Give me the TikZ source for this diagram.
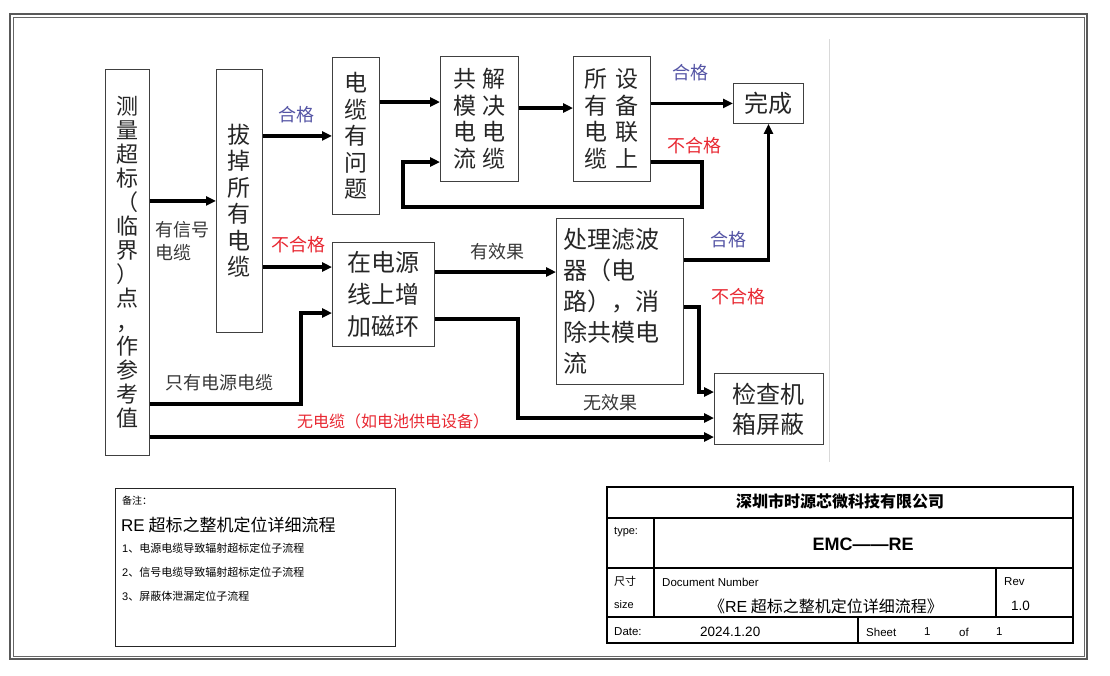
\documentclass[tikz,border=0pt]{standalone}
\usepackage{fontspec}
\setmainfont{Noto Sans CJK SC}
\newfontfamily\arialfont{Liberation Sans}
\usetikzlibrary{arrows.meta}
\definecolor{okblue}{RGB}{85,85,165}
\definecolor{failred}{RGB}{232,40,50}
\definecolor{labelgray}{RGB}{55,55,55}

\begin{document}
\begin{tikzpicture}[x=1pt,y=-1pt,>={Triangle[length=10pt,width=9pt]},
  box/.style={draw=black!75,line width=0.9pt,inner sep=0pt,align=center,anchor=north west,
    text=black!85,font=\fontsize{23}{26.5}\selectfont},
  flow/.style={->,line width=3.4pt},
  lbl/.style={text=labelgray,font=\fontsize{18}{23}\selectfont},
  pass/.style={text=okblue,font=\fontsize{18}{20}\selectfont},
  fail/.style={text=failred,font=\fontsize{18}{20}\selectfont},
  small/.style={anchor=west,inner sep=0pt,font=\fontsize{11}{13}\selectfont}]
  \useasboundingbox (0,0) rectangle (1110,675);
  % frame of the sheet
  \draw[black!65,line width=2.4pt] (10,14) rectangle (1087,659);
  \draw[black!60,line width=0.8pt] (13,17) rectangle (1084,656);
  \draw[black!15] (829,39) -- (829,462);

  % flow boxes
  \node[box,minimum width=44pt,minimum height=386pt,font=\fontsize{22}{24}\selectfont] (measure) at (105,69)
    {测\\量\\超\\标\\（\\临\\界\\）\\点\\，\\作\\参\\考\\值};
  \node[box,minimum width=46pt,minimum height=263pt] (unplug) at (216,69)
    {拔\\掉\\所\\有\\电\\缆};
  \node[box,minimum width=47pt,minimum height=157pt] (cablebad) at (332,57)
    {电\\缆\\有\\问\\题};
  \node[box,minimum width=78pt,minimum height=125pt] (fixcm) at (440,56)
    {共\hspace{6pt}解\\模\hspace{6pt}决\\电\hspace{6pt}电\\流\hspace{6pt}缆};
  \node[box,minimum width=77pt,minimum height=125pt] (allcable) at (573,56)
    {所\hspace{8pt}设\\有\hspace{8pt}备\\电\hspace{8pt}联\\缆\hspace{8pt}上};
  \node[box,minimum width=70pt,minimum height=40pt,font=\fontsize{24}{30}\selectfont] (done) at (733,83) {完成};
  \node[box,minimum width=102pt,minimum height=104pt,font=\fontsize{24}{32}\selectfont] (ferrite) at (332,242)
    {在电源\\线上增\\加磁环};
  \node[box,minimum width=127pt,minimum height=166pt,text width=113pt,align=left,
    font=\fontsize{24}{31}\selectfont] (filter) at (556,218)
    {处理滤波\\器（电\\路），消\\除共模电\\流};
  \node[box,minimum width=109pt,minimum height=71pt,font=\fontsize{24}{30}\selectfont] (shield) at (714,373)
    {检查机\\箱屏蔽};

  % connectors
  \draw[flow] (measure.east |- unplug.west) -- (unplug.west);
  \draw[flow] (unplug.east |- cablebad.west) -- (cablebad.west);
  \draw[flow] (cablebad.east |- 0,102) -- (fixcm.west |- 0,102);
  \draw[flow] (fixcm.east |- 0,108) -- (allcable.west |- 0,108);
  \draw[flow] (allcable.east |- done.west) -- (done.west);
  \draw[flow] (allcable.east |- 0,162) -- (702,162) -- (702,207) -- (403,207) -- (403,162)
    -- (fixcm.west |- 0,162);
  \draw[flow] (unplug.east |- 0,267) -- (ferrite.west |- 0,267);
  \draw[flow] (measure.east |- 0,404) -| (301,313) -- (ferrite.west |- 0,313);
  \draw[flow] (measure.east |- 0,437) -- (shield.west |- 0,437);
  \draw[flow] (ferrite.east |- 0,272) -- (filter.west |- 0,272);
  \draw[flow] (ferrite.east |- 0,319) -| (518,418) -- (shield.west |- 0,418);
  \draw[flow] (filter.east |- 0,307) -| (699,392) -- (shield.west |- 0,392);
  \draw[flow] (filter.east |- 0,260) -| (done.south);

  % connector labels
  \node[lbl,align=left] (sigcable) at (182,241) {有信号\\电缆};
  \node[pass] (passA) at (296,115) {合格};
  \node[fail] (failA) at (298,245) {不合格};
  \node[lbl] (poweronly) at (219,383) {只有电源电缆};
  \node[fail,font=\fontsize{16}{18}\selectfont] (nocable) at (393,421) {无电缆（如电池供电设备）};
  \node[lbl] (works) at (497,252) {有效果};
  \node[lbl] (noeffect) at (610,403) {无效果};
  \node[pass] (passB) at (728,240) {合格};
  \node[fail] (failB) at (738,297) {不合格};
  \node[pass] (passC) at (690,73) {合格};
  \node[fail] (failC) at (694,146) {不合格};

  % notes box
  \draw[black!85,line width=0.9pt] (115,488) rectangle (395,646);
  \node[small,font=\fontsize{10}{12}\selectfont] (notehead) at (122,501) {备注：};
  \node[small,font=\fontsize{17}{20}\selectfont] (notetitle) at (121,525) {{\arialfont RE} 超标之整机定位详细流程};
  \node[small] (noteA) at (122,548) {{\arialfont 1}、电源电缆导致辐射超标定位子流程};
  \node[small] (noteB) at (122,572) {{\arialfont 2}、信号电缆导致辐射超标定位子流程};
  \node[small] (noteC) at (122,596) {{\arialfont 3}、屏蔽体泄漏定位子流程};

  % title block
  \draw[line width=1.8pt] (607,487) rectangle (1073,643);
  \draw[line width=1.8pt] (607,518) -- (1073,518) (607,568) -- (1073,568) (607,617) -- (1073,617)
    (654,518) -- (654,617) (996,568) -- (996,617) (858,617) -- (858,643);
  \node[font=\fontsize{16}{18}\selectfont\bfseries] (company) at (840,501) {深圳市时源芯微科技有限公司};
  \node[small,font=\fontsize{11}{13}\arialfont] (typekey) at (614,532) {type:};
  \node[font=\fontsize{18}{20}\arialfont\bfseries] (typeval) at (863,544) {EMC——RE};
  \node[small] (sizecn) at (614,581) {尺寸};
  \node[small,font=\fontsize{11}{13}\arialfont] (sizekey) at (614,605) {size};
  \node[small,font=\fontsize{11.5}{13}\arialfont] (docnum) at (662,582) {Document Number};
  \node[font=\fontsize{16}{18}\selectfont] (doctitle) at (826,606) {《{\arialfont RE} 超标之整机定位详细流程》};
  \node[small,font=\fontsize{11.5}{13}\arialfont] (revkey) at (1004,582) {Rev};
  \node[small,font=\fontsize{13.5}{15}\arialfont] (revval) at (1011,606) {1.0};
  \node[small,font=\fontsize{11.5}{13}\arialfont] (datekey) at (614,632) {Date:};
  \node[small,font=\fontsize{13.5}{15}\arialfont] (dateval) at (700,632) {2024.1.20};
  \node[small,font=\fontsize{11.5}{13}\arialfont] (sheetkey) at (866,632) {Sheet};
  \node[small,font=\fontsize{11.5}{13}\arialfont] (sheetno) at (924,632) {1};
  \node[small,font=\fontsize{11.5}{13}\arialfont] (ofkey) at (959,632) {of};
  \node[small,font=\fontsize{11.5}{13}\arialfont] (sheettot) at (996,632) {1};
\end{tikzpicture}
\end{document}
